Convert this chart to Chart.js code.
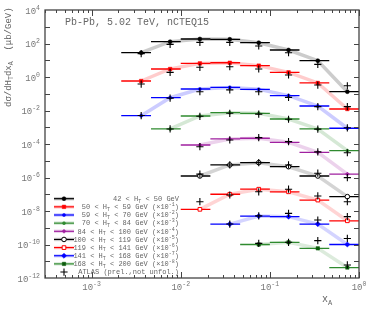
<!DOCTYPE html>
<html><head><meta charset="utf-8">
<script src="https://cdn.jsdelivr.net/npm/chart.js@4"></script>
<style>html,body{margin:0;padding:0;background:#fff}#wrap{width:374px;height:314px}</style>
</head><body><div id="wrap"><canvas id="c" width="374" height="314"></canvas></div>
<script>
// ---- data (values as plotted, i.e. already multiplied by the legend factor) ----
const xEdges   = [0.00215, 0.00464, 0.01, 0.0215, 0.0464, 0.1, 0.215, 0.464, 1];
const xCenters = [0.0036, 0.0076, 0.0164, 0.0355, 0.075, 0.162, 0.345, 0.74];
const htLow  = [42, 50, 59, 70, 84, 100, 119, 141, 168];
const htHigh = [50, 59, 70, 84, 100, 119, 141, 168, 200];
const scaleExp = [0, 1, 2, 3, 4, 5, 6, 7, 8];
const yTickExps = [4, 2, 0, -2, -4, -6, -8, -10, -12];
const xTickExps = [-3, -2, -1, 0];

const s1 = [28.2, 128, 186, 178, 112, 41, 9.4, 0.133];
const s2 = [0.577, 3.0, 6.5, 7.1, 4.75, 1.9, 0.44, 0.0123];
const s3 = [0.0049, 0.058, 0.192, 0.24, 0.184, 0.077, 0.0186, 8.7e-4];
const s4 = [null, 7.9e-4, 0.0047, 0.0074, 0.0068, 0.0031, 7.9e-4, 4e-5];
const s5 = [null, null, 8.7e-5, 2.0e-4, 2.2e-4, 1.26e-4, 3.2e-5, 1.6e-6];
const s6 = [null, null, 1.23e-6, 5.6e-6, 7.7e-6, 4.4e-6, 1.23e-6, 7.2e-8];
const s7 = [null, null, 1.26e-8, 1.0e-7, 2.0e-7, 1.4e-7, 4.5e-8, 2.6e-9];
const s8 = [null, null, null, 1.66e-9, 5e-9, 4.6e-9, 1.66e-9, 1.0e-10];
const s9 = [null, null, null, null, 1.0e-10, 1.35e-10, 5.9e-11, 4.2e-12];

const a1 = [25, 89, 117, 117, 71, 28, 5.7, 0.30];
const a2 = [0.38, 1.9, 3.8, 4.1, 3.0, 1.32, 0.33, 0.017];
const a3 = [0.005, 0.055, 0.133, 0.17, 0.133, 0.061, 0.017, 9.3e-4];
const a4 = [null, 7.9e-4, 0.0045, 0.0068, 0.0061, 0.003, 7.7e-4, 3e-5];
const a5 = [null, null, 6.9e-5, 1.74e-4, 2.4e-4, 1.38e-4, 3.4e-5, 9.8e-7];
const a6 = [null, null, 1.6e-6, 5.6e-6, 7.7e-6, 5.6e-6, 1.8e-6, 3.6e-8];
const a7 = [null, null, 3.6e-8, 9e-8, 1.4e-7, 2e-7, 7.9e-8, 4.6e-9];
const a8 = [null, null, null, 1.66e-9, 5.1e-9, 7.2e-9, 2.9e-9, 2.3e-10];
const a9 = [null, null, null, null, 1.17e-10, 1.35e-10, 1.7e-10, 6e-12];

const theory = [s1, s2, s3, s4, s5, s6, s7, s8, s9];
const atlas  = [a1, a2, a3, a4, a5, a6, a7, a8, a9];

// ---- styles ----
const styles = [
  {c:'#000000', band:'rgba(0,0,0,0.2)',      ps:'circle',  r:2,   open:false},
  {c:'#ff0000', band:'rgba(255,0,0,0.2)',    ps:'rect',    r:2.5, open:false},
  {c:'#0000ff', band:'rgba(0,0,255,0.2)',    ps:'circle',  r:1.6, open:false},
  {c:'#2f8a2f', band:'rgba(47,138,47,0.2)',  ps:'circle',  r:1.5, open:false},
  {c:'#a020a0', band:'rgba(160,32,160,0.2)', ps:'rectRot', r:2,   open:false},
  {c:'#000000', band:'rgba(0,0,0,0.17)',     ps:'circle',  r:2.3, open:true},
  {c:'#ff0000', band:'rgba(255,0,0,0.17)',   ps:'rect',    r:2.6, open:true},
  {c:'#0000ff', band:'rgba(0,0,255,0.17)',   ps:'rectRot', r:2.6, open:false},
  {c:'#2f8a2f', band:'rgba(47,138,47,0.17)', ps:'rect',    r:2.4, open:false, mc:'#0b5a0b'}
];

const datasets = [];
const crossPts = [];
atlas.forEach(a => a.forEach((v,k) => { if (v != null) crossPts.push({x:xCenters[k], y:v}); }));
datasets.push({data: crossPts, showLine:false, pointStyle:'cross', pointRadius:3.6,
  borderColor:'#000', backgroundColor:'#000', pointBorderWidth:1.1, order:0});

theory.forEach((s, i) => {
  const st = styles[i];
  const centers = [], bars = [];
  s.forEach((v,k) => {
    if (v == null) return;
    centers.push({x:xCenters[k], y:v});
    bars.push({x:xEdges[k], y:v}, {x:xEdges[k+1], y:v}, {x:xEdges[k+1], y:null});
  });
  datasets.push({data:centers, showLine:false, pointStyle:st.ps, pointRadius:st.r,
    pointBorderWidth: st.open ? 1 : 0.5, borderColor: st.mc || st.c,
    backgroundColor: st.open ? '#fff' : (st.mc || st.c), order:1});
  datasets.push({data:bars, showLine:true, spanGaps:false, borderColor:st.c, borderWidth:1.3,
    pointRadius:0, order:2});
  datasets.push({data:centers, showLine:true, borderColor:st.band, borderWidth:3.5,
    borderCapStyle:'butt', pointRadius:0, order:3});
});

// ---- helpers ----
const FONT = '"Liberation Mono", "DejaVu Sans Mono", monospace';
function rich(ctx, parts, x, y, align) {
  let w = 0;
  parts.forEach(p => { ctx.font = p[1] + 'px ' + FONT; w += ctx.measureText(p[0]).width; });
  let cx = align === 'right' ? x - w : align === 'center' ? x - w/2 : x;
  ctx.textAlign = 'left'; ctx.textBaseline = 'alphabetic';
  parts.forEach(p => { ctx.font = p[1] + 'px ' + FONT; ctx.fillText(p[0], cx, y + p[2]); cx += ctx.measureText(p[0]).width; });
}
function marker(ctx, st, x, y) {
  ctx.save();
  ctx.fillStyle = st.open ? '#fff' : (st.mc || st.c);
  ctx.strokeStyle = st.mc || st.c;
  ctx.lineWidth = st.open ? 1 : 0.5;
  if (Chart.helpers && Chart.helpers.drawPoint) {
    Chart.helpers.drawPoint(ctx, {pointStyle:st.ps, radius:st.r, rotation:0, borderWidth:ctx.lineWidth}, x, y);
  } else {
    ctx.beginPath(); ctx.arc(x, y, st.r, 0, Math.PI*2); ctx.fill(); ctx.stroke();
  }
  ctx.restore();
}

const deco = {
  id:'deco',
  afterDraw(chart) {
    const ctx = chart.ctx, a = chart.chartArea, xs = chart.scales.x, ys = chart.scales.y;
    ctx.save();
    // frame
    ctx.strokeStyle = '#444'; ctx.lineWidth = 1.3;
    ctx.strokeRect(a.left, a.top, a.right - a.left, a.bottom - a.top);
    ctx.lineWidth = 1;
    // y ticks each decade
    for (let e = -11; e <= 3; e++) {
      const py = Math.round(ys.getPixelForValue(Math.pow(10, e))) + 0.5;
      ctx.beginPath();
      ctx.moveTo(a.left, py); ctx.lineTo(a.left + 5, py);
      ctx.moveTo(a.right, py); ctx.lineTo(a.right - 5, py);
      ctx.stroke();
    }
    // x ticks
    for (let e = -4; e <= 0; e++) {
      for (let m = 1; m <= 9; m++) {
        const v = m * Math.pow(10, e);
        if (v < xs.min || v > xs.max) continue;
        const px = Math.round(xs.getPixelForValue(v)) + 0.5;
        const len = m === 1 ? 6 : 3;
        ctx.beginPath();
        ctx.moveTo(px, a.bottom); ctx.lineTo(px, a.bottom - len);
        ctx.moveTo(px, a.top); ctx.lineTo(px, a.top + len);
        ctx.stroke();
      }
    }
    // tick labels
    ctx.fillStyle = '#777';
    yTickExps.forEach(e => {
      const py = ys.getPixelForValue(Math.pow(10, e));
      rich(ctx, [['10', 9, 0], [String(e), 6.5, -4]], a.left - 5, py + 3.5, 'right');
    });
    xTickExps.forEach(e => {
      const px = xs.getPixelForValue(Math.pow(10, e));
      rich(ctx, [['10', 9, 0], [String(e), 6.5, -4]], px, 290, 'center');
    });
    // header
    ctx.fillStyle = '#666';
    rich(ctx, [['Pb-Pb, 5.02 TeV, nCTEQ15', 10, 0]], 65, 25, 'left');
    // x title
    rich(ctx, [['x', 10, 0], ['A', 7, 3]], 322, 302, 'left');
    // y title
    ctx.save();
    ctx.translate(11, 107); ctx.rotate(-Math.PI/2);
    rich(ctx, [['d\u03c3/dH', 9, 0], ['T', 6.5, 2], ['dx', 9, 0], ['A', 6.5, 2], ['  (\u03bcb/GeV)', 9, 0]], 0, 0, 'left');
    ctx.restore();
    // legend
    const rowY0 = 198.7, dy = 8.15, lx0 = 54, lx1 = 74, tx = 179;
    styles.forEach((st, i) => {
      const y = rowY0 + i * dy;
      ctx.lineCap = 'butt';
      ctx.strokeStyle = st.band; ctx.lineWidth = 3.5;
      ctx.beginPath(); ctx.moveTo(lx0, y); ctx.lineTo(lx1, y); ctx.stroke();
      ctx.strokeStyle = st.c; ctx.lineWidth = 1.2;
      ctx.beginPath(); ctx.moveTo(lx0, y); ctx.lineTo(lx1, y); ctx.stroke();
      marker(ctx, st, (lx0 + lx1) / 2, y);
      const parts = [[htLow[i] + ' < H', 7, 0], ['T', 5, 1.5], [' < ' + htHigh[i] + ' GeV', 7, 0]];
      if (scaleExp[i] > 0) parts.push([' (\u00d710', 7, 0], ['-' + scaleExp[i], 5, -3], [')', 7, 0]);
      ctx.fillStyle = '#666';
      rich(ctx, parts, tx, y + 2.3, 'right');
    });
    const ya = rowY0 + 9 * dy;
    ctx.strokeStyle = '#000'; ctx.lineWidth = 1.1;
    ctx.beginPath();
    ctx.moveTo(64 - 3.6, ya); ctx.lineTo(64 + 3.6, ya);
    ctx.moveTo(64, ya - 3.6); ctx.lineTo(64, ya + 3.6);
    ctx.stroke();
    ctx.fillStyle = '#666';
    rich(ctx, [['ATLAS (prel.,not unfol.)', 7, 0]], tx, ya + 2.3, 'right');
    ctx.restore();
  }
};

new Chart(document.getElementById('c'), {
  type: 'line',
  data: { datasets },
  options: {
    responsive: false, animation: false, devicePixelRatio: 1,
    layout: { padding: { top: 10, right: 15, left: 0, bottom: 0 } },
    plugins: { legend: { display: false }, tooltip: { enabled: false } },
    scales: {
      x: { type: 'logarithmic', min: 3e-4, max: 1,
           grid: { display: false }, border: { display: false }, ticks: { display: false },
           afterFit(s) { s.height = 36; } },
      y: { type: 'logarithmic', min: 1e-12, max: 1e4,
           grid: { display: false }, border: { display: false }, ticks: { display: false },
           afterFit(s) { s.width = 45; } }
    }
  },
  plugins: [deco]
});
</script>
</body></html>
